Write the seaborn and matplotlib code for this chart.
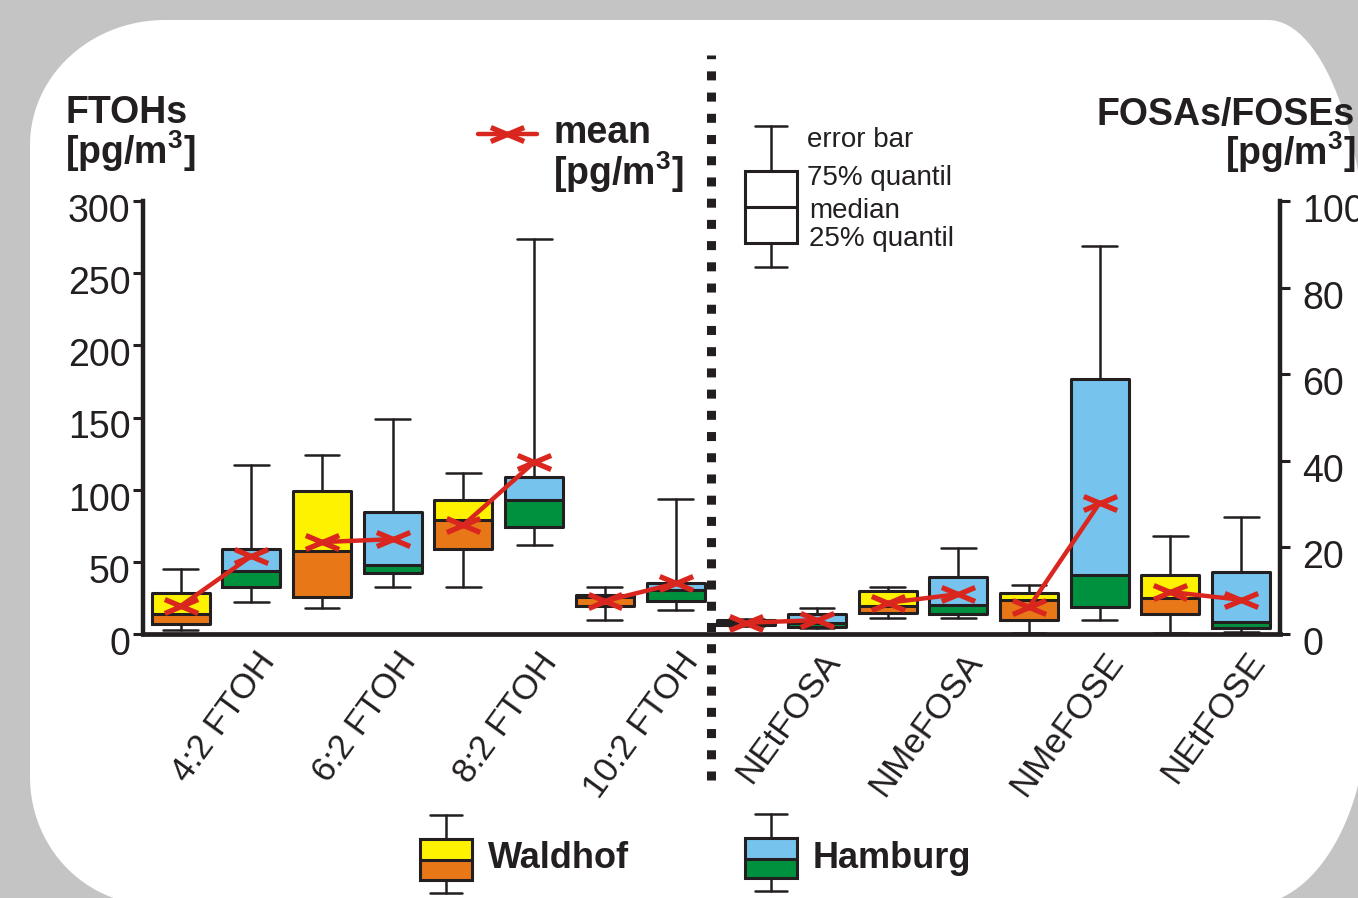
import numpy as np
import pandas as pd
import matplotlib.pyplot as plt
import seaborn as sns
from matplotlib.path import Path
from matplotlib.patches import Polygon, Rectangle
from matplotlib.transforms import ScaledTranslation

# categories
ftoh_names = ["4:2 FTOH", "6:2 FTOH", "8:2 FTOH", "10:2 FTOH"]
fosa_names = ["NEtFOSA", "NMeFOSA", "NMeFOSE", "NEtFOSE"]

# box statistics [pg/m3], rows: whisker low, 25%, median, 75%, whisker high
ftoh_waldhof = [
    [2.8, 18.0, 32.6, 9.7],
    [6.9, 25.8, 58.9, 19.4],
    [13.8, 57.5, 79.0, 25.6],
    [28.4, 99.0, 92.8, 27.0],
    [45.0, 124.0, 111.5, 32.6],
]
ftoh_hamburg = [
    [22.2, 32.6, 61.6, 16.6],
    [32.6, 42.2, 74.0, 22.8],
    [43.6, 47.8, 92.8, 30.5],
    [58.9, 84.5, 108.7, 35.3],
    [117.0, 149.0, 274.0, 93.5],
]
fosa_waldhof = [
    [1.8, 3.7, 0.3, 0.3],
    [2.1, 4.9, 3.2, 4.6],
    [2.6, 6.5, 7.9, 8.3],
    [3.2, 9.9, 9.5, 13.6],
    [3.4, 10.9, 11.3, 22.6],
]
fosa_hamburg = [
    [1.4, 3.7, 3.2, 0.5],
    [1.7, 4.6, 6.2, 1.4],
    [2.5, 6.7, 13.6, 2.8],
    [4.6, 13.2, 58.9, 14.3],
    [6.0, 19.9, 89.6, 27.0],
]

# means [pg/m3]
ftoh_mean_waldhof = [19.4, 63.7, 75.5, 22.8]
ftoh_mean_hamburg = [54.0, 65.7, 119.0, 35.0]
fosa_mean_waldhof = [2.6, 7.2, 6.2, 9.7]
fosa_mean_hamburg = [3.2, 9.2, 30.3, 7.9]

left_ticks = [0, 50, 100, 150, 200, 250, 300]
right_ticks = [0, 20, 40, 60, 80, 100]

# look
W, H = 1358, 898
GRAY = "#c4c4c4"
DARK = "#231f20"
RED = "#d9271f"
YELLOW = "#fff200"
ORANGE = "#e87817"
BLUE = "#76c3ed"
GREEN = "#00913f"
BOX_W = 0.41
OFFSET = 0.25
UNIT = r"[pg/m$^{\mathbf{3}}$]"
X_MARK = Path([(-1, -0.42), (1, 0.42), (-1, 0.42), (1, -0.42)],
              [Path.MOVETO, Path.LINETO, Path.MOVETO, Path.LINETO])

sns.set_style("white")
plt.rcParams["font.family"] = ["Liberation Sans", "DejaVu Sans"]
plt.rcParams["text.color"] = DARK
plt.rcParams["mathtext.fontset"] = "custom"
plt.rcParams["mathtext.rm"] = "Liberation Sans"
plt.rcParams["mathtext.bf"] = "Liberation Sans:bold"


def rounded_outline(x0, y0, x1, y1, corners, n=40):
    """Points of a rectangle with elliptical corners (pixel coords, y down)."""
    tl, tr, br, bl = corners
    spec = [
        (x0 + tl[0], y0 + tl[1], tl, np.pi, 1.5 * np.pi),
        (x1 - tr[0], y0 + tr[1], tr, 1.5 * np.pi, 2 * np.pi),
        (x1 - br[0], y1 - br[1], br, 0, 0.5 * np.pi),
        (x0 + bl[0], y1 - bl[1], bl, 0.5 * np.pi, np.pi),
    ]
    pts = []
    for cx, cy, (rx, ry), t0, t1 in spec:
        t = np.linspace(t0, t1, n)
        pts.append(np.column_stack([cx + rx * np.cos(t), cy + ry * np.sin(t)]))
    return np.vstack(pts)


def draw_boxes(axis, pos, stats, low_col, high_col):
    whislo, q1, med, q3, whishi = [np.asarray(r) for r in stats]
    axis.bar(pos, med - q1, bottom=q1, width=BOX_W, color=low_col, zorder=2)
    axis.bar(pos, q3 - med, bottom=med, width=BOX_W, color=high_col, zorder=2)
    bstats = [dict(whislo=a, q1=b, med=c, q3=d, whishi=e, fliers=[])
              for a, b, c, d, e in zip(whislo, q1, med, q3, whishi)]
    axis.bxp(bstats, positions=pos, widths=BOX_W, capwidths=BOX_W * 0.6,
             showfliers=False, manage_ticks=False, zorder=3,
             boxprops=dict(color=DARK, lw=2.2),
             whiskerprops=dict(color=DARK, lw=1.8),
             capprops=dict(color=DARK, lw=1.8),
             medianprops=dict(color=DARK, lw=2.2))


def draw_group(axis, centers, waldhof, hamburg, mean_w, mean_h, names):
    draw_boxes(axis, centers - OFFSET, waldhof, ORANGE, YELLOW)
    draw_boxes(axis, centers + OFFSET, hamburg, GREEN, BLUE)
    means = pd.DataFrame({
        "pos": np.concatenate([centers - OFFSET, centers + OFFSET]),
        "mean": mean_w + mean_h,
        "compound": names + names,
    })
    sns.lineplot(data=means, x="pos", y="mean", units="compound", estimator=None,
                 ax=axis, color=RED, lw=3.2, marker=X_MARK, markersize=24,
                 markeredgewidth=3.8, markeredgecolor=RED, markerfacecolor="none",
                 legend=False, zorder=6)
    axis.set_xlabel("")
    axis.set_ylabel("")


def legend_glyph(axo, xc, caps, box, med, fills=None):
    cap_top, cap_bot = caps
    top, bot = box
    if fills:
        axo.add_patch(Rectangle((xc - 26, top), 52, med - top, fc=fills[0], ec="none"))
        axo.add_patch(Rectangle((xc - 26, med), 52, bot - med, fc=fills[1], ec="none"))
    axo.add_patch(Rectangle((xc - 26, top), 52, bot - top, fc="none", ec=DARK, lw=2.2))
    axo.plot([xc - 26, xc + 26], [med, med], color=DARK, lw=2.2)
    axo.plot([xc, xc], [cap_top, top], color=DARK, lw=1.8)
    axo.plot([xc, xc], [bot, cap_bot], color=DARK, lw=1.8)
    axo.plot([xc - 16, xc + 16], [cap_top, cap_top], color=DARK, lw=1.8)
    axo.plot([xc - 16, xc + 16], [cap_bot, cap_bot], color=DARK, lw=1.8)


fig = plt.figure(figsize=(W / 100, H / 100), dpi=100, facecolor=GRAY)

# white rounded panel
ax_bg = fig.add_axes([0, 0, 1, 1], zorder=-5)
ax_bg.set_xlim(0, W)
ax_bg.set_ylim(H, 0)
ax_bg.axis("off")
outline = rounded_outline(30, 20, 1368, 905,
                          [(135, 125), (100, 268), (118, 200), (124, 128)])
ax_bg.add_patch(Polygon(outline, closed=True, fc="white", ec="none"))

ax = fig.add_axes([143 / W, 1 - 634 / H, (1280 - 143) / W, (634 - 201) / H])
ax.set_facecolor("none")
ax2 = ax.twinx()
ax2.set_facecolor("none")

ftoh_pos = np.arange(4, dtype=float)
fosa_pos = np.arange(4, 8, dtype=float)
draw_group(ax, ftoh_pos, ftoh_waldhof, ftoh_hamburg,
           ftoh_mean_waldhof, ftoh_mean_hamburg, ftoh_names)
draw_group(ax2, fosa_pos, fosa_waldhof, fosa_hamburg,
           fosa_mean_waldhof, fosa_mean_hamburg, fosa_names)

ax.set_xlim(-0.516, 7.525)
ax.set_ylim(0, 300)
ax2.set_ylim(0, 100)
ax.set_yticks(left_ticks)
ax2.set_yticks(right_ticks)
ax.set_xticks(np.concatenate([ftoh_pos, fosa_pos]))
ax.set_xticklabels(ftoh_names + fosa_names, rotation=54, ha="right", va="center",
                   rotation_mode="anchor")

for s in ["top", "right"]:
    ax.spines[s].set_visible(False)
for s in ["top", "left", "bottom"]:
    ax2.spines[s].set_visible(False)
ax.spines["left"].set_linewidth(3.2)
ax.spines["bottom"].set_linewidth(3.4)
ax2.spines["right"].set_linewidth(3.2)
for sp in list(ax.spines.values()) + list(ax2.spines.values()):
    sp.set_color(DARK)

ax.tick_params(axis="y", left=True, direction="out", length=7, width=2.2,
               labelsize=27, pad=2, colors=DARK)
ax.tick_params(axis="x", bottom=False, length=0, pad=16, labelsize=25, colors=DARK)
ax2.tick_params(axis="y", right=True, direction="out", length=7, width=2.2,
                labelsize=27, pad=9, colors=DARK)

# divider between FTOHs and FOSAs/FOSEs
ax.axvline(3.5, ymin=(634 - 780) / 433, ymax=(634 - 55) / 433, clip_on=False,
           color=DARK, lw=6.5, linestyle=(0, (1.0, 1.35)), dash_capstyle="butt",
           zorder=7)

# nudge tick labels like the original
shift_y = ScaledTranslation(0, -0.07, fig.dpi_scale_trans)
for lab in ax.get_yticklabels() + ax2.get_yticklabels():
    lab.set_transform(lab.get_transform() + shift_y)
shift_x = ScaledTranslation(0.52, 0, fig.dpi_scale_trans)
for lab in ax.get_xticklabels():
    lab.set_transform(lab.get_transform() + shift_x)

# overlay for titles and legends
ax_ov = fig.add_axes([0, 0, 1, 1], zorder=10)
ax_ov.set_xlim(0, W)
ax_ov.set_ylim(H, 0)
ax_ov.axis("off")

ax_ov.text(65, 123, "FTOHs", size=27, weight="bold", va="baseline")
ax_ov.text(65, 164, UNIT, size=27, weight="bold", va="baseline")
ax_ov.text(1355, 125, "FOSAs/FOSEs", size=27, weight="bold", va="baseline", ha="right")
ax_ov.text(1355, 165, UNIT, size=27, weight="bold", va="baseline", ha="right")

ax_ov.plot([478, 537], [134, 134], color=RED, lw=3.2)
ax_ov.plot([507], [134], marker=X_MARK, ms=24, mew=3.8, color=RED, mfc="none")
ax_ov.text(553, 143, "mean", size=27, weight="bold", va="baseline")
ax_ov.text(553, 185, UNIT, size=27, weight="bold", va="baseline")

legend_glyph(ax_ov, 771, (126, 267), (171, 243), 207)
ax_ov.text(807, 147, "error bar", size=20, va="baseline")
ax_ov.text(807, 185, "75% quantil", size=20, va="baseline")
ax_ov.text(809, 218, "median", size=20, va="baseline")
ax_ov.text(809, 246, "25% quantil", size=20, va="baseline")

legend_glyph(ax_ov, 446, (815, 893), (839, 880), 860, fills=(YELLOW, ORANGE))
ax_ov.text(488, 868, "Waldhof", size=26, weight="bold", va="baseline")
legend_glyph(ax_ov, 771, (814, 891), (838, 878), 859, fills=(BLUE, GREEN))
ax_ov.text(813, 868, "Hamburg", size=26, weight="bold", va="baseline")

fig.savefig("out.png", dpi=100, facecolor=fig.get_facecolor())
